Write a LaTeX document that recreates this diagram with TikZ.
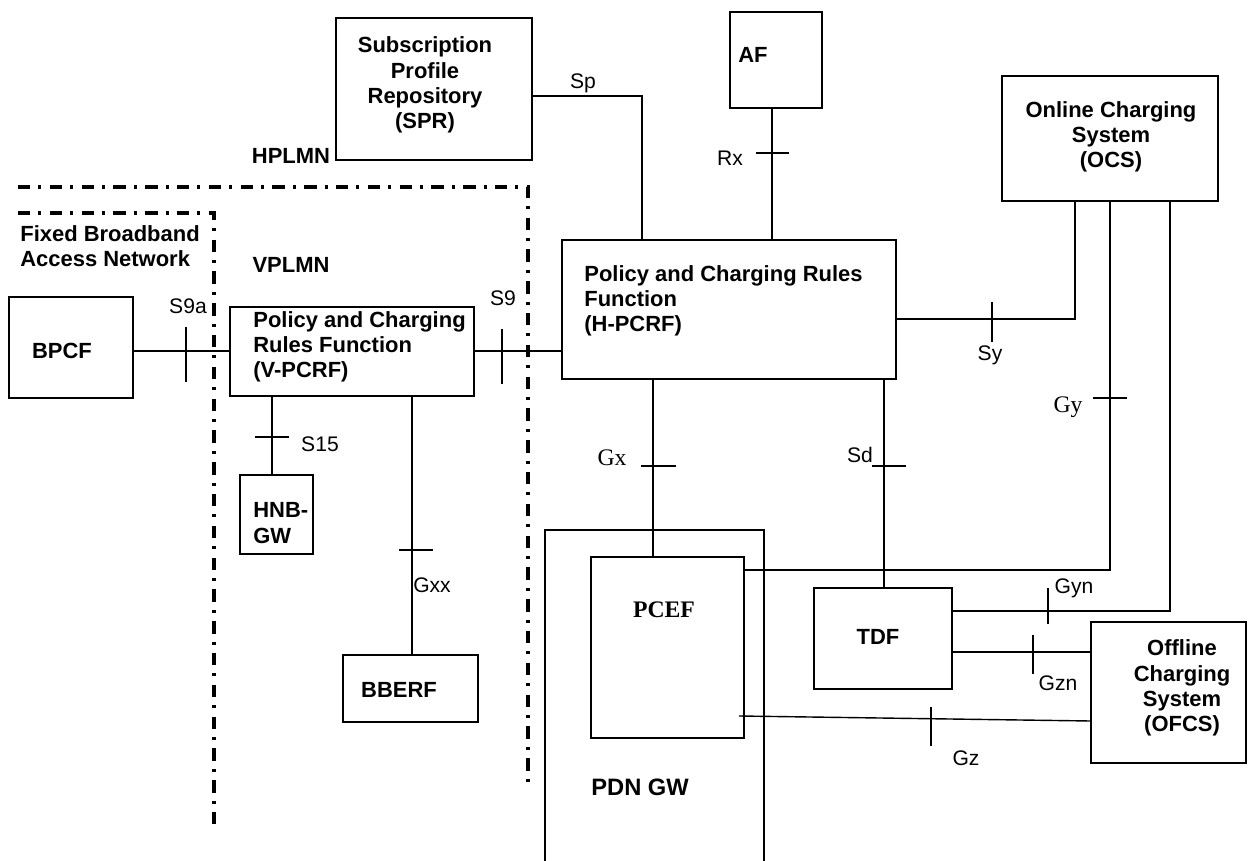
\documentclass[tikz,border=0pt]{standalone}
\usepackage{fontspec}
\setmainfont{Liberation Sans}
\newfontfamily\timesface{Liberation Serif}
\usetikzlibrary{fit}

\begin{document}
\begin{tikzpicture}[x=0.02cm, y=-0.02cm,
  box/.style={draw, line width=0.9pt, inner sep=0pt},
  boxtext/.style={font=\fontsize{12.5}{14.3}\selectfont\bfseries, inner sep=0pt},
  iface/.style={font=\fontsize{12}{14}\selectfont, inner sep=0pt},
  conn/.style={line width=0.8pt},
  tickline/.style={line width=0.6pt},
  plmnline/.style={line width=1.8pt, dash pattern=on 7pt off 4.6pt on 1.7pt off 4.8pt}]

\clip (0,0) rectangle (1249,861);

% Network borders
\draw[plmnline] (18,187) -- (528,187) -- (528,783);
\draw[plmnline] (18,213) -- (214,213) -- (214,828);
\node[boxtext] at (291,156) {HPLMN};
\node[boxtext] at (291,265) {VPLMN};
\node[boxtext, anchor=west, align=left] at (20,246) {Fixed Broadband\\Access Network};

% Boxes
\node[box, fit={(336,18) (532,160)}] (spr) {};
\node[box, fit={(730,12) (822,108)}] (af) {};
\node[box, fit={(1002,76) (1218,201)}] (ocs) {};
\node[box, fit={(9,297) (133,398)}] (bpcf) {};
\node[box, fit={(230,307) (474,396)}] (vpcrf) {};
\node[box, fit={(562,240) (896,379)}] (hpcrf) {};
\node[box, fit={(240,475) (313,554)}] (hnbgw) {};
\node[box, fit={(343,655) (478,722)}] (bberf) {};
\node[box, fit={(545,530) (764,900)}] (pdngw) {};
\node[box, fit={(591,557) (744,738)}] (pcef) {};
\node[box, fit={(814,588) (952,689)}] (tdf) {};
\node[box, fit={(1091,622) (1246,763)}] (ofcs) {};

% Box texts
\node[boxtext, align=center] at (425,85) {Subscription\\Profile\\Repository\\(SPR)};
\node[boxtext] at (753,55) {AF};
\node[boxtext, align=center] at (1111,137) {Online Charging\\System\\(OCS)};
\node[boxtext] at (62,351) {BPCF};
\node[boxtext, anchor=west, align=left] at (253,347) {Policy and Charging\\Rules Function\\(V-PCRF)};
\node[boxtext, anchor=west, align=left] at (584,301) {Policy and Charging Rules\\Function\\(H-PCRF)};
\node[boxtext, anchor=west, align=left] at (253,523) {HNB-\\GW};
\node[boxtext] at (399,690) {BBERF};
\node[boxtext, font=\fontsize{13.5}{15}\selectfont\timesface\bfseries] at (664,610) {PCEF};
\node[boxtext] at (878,637) {TDF};
\node[boxtext, align=center] at (1182,688) {Offline\\Charging\\System\\(OFCS)};
\node[boxtext, anchor=west, font=\fontsize{13.5}{15}\selectfont\bfseries] at (591,787) {PDN GW};

% Bend points and crossing points
\coordinate (spbend) at (642,96);
\coordinate (rx) at (772,153);
\coordinate (s9a) at (186,351);
\coordinate (s9) at (502,351);
\coordinate (s15) at (272,437);
\coordinate (gxx) at (412,550);
\coordinate (gx) at (653,466);
\coordinate (sd) at (884,466);
\coordinate (sybend) at (1075,319);
\coordinate (gybend) at (1110,570);
\coordinate (gynbend) at (1170,611);
\coordinate (gzn) at (1033,652);
\coordinate (gzstart) at (739,716);
\coordinate (gzend) at (1091,721);

% Interfaces
\draw[conn] (spr.east |- spbend) -- (spbend) -- (spbend |- hpcrf.north);
\draw[conn] (rx |- af.south) -- (rx |- hpcrf.north);
\draw[conn] (bpcf.east |- s9a) -- (vpcrf.west |- s9a);
\draw[conn] (vpcrf.east |- s9) -- (hpcrf.west |- s9);
\draw[conn] (s15 |- vpcrf.south) -- (s15 |- hnbgw.north);
\draw[conn] (gxx |- vpcrf.south) -- (gxx |- bberf.north);
\draw[conn] (gx |- hpcrf.south) -- (gx |- pcef.north);
\draw[conn] (sd |- hpcrf.south) -- (sd |- tdf.north);
\draw[conn] (hpcrf.east |- sybend) -- (sybend) -- (sybend |- ocs.south);
\draw[conn] (pcef.east |- gybend) -- (gybend) -- (gybend |- ocs.south);
\draw[conn] (tdf.east |- gynbend) -- (gynbend) -- (gynbend |- ocs.south);
\draw[conn] (tdf.east |- gzn) -- (ofcs.west |- gzn);
\draw[conn] (gzstart) -- (ofcs.west |- gzend);

% Ticks
\draw[tickline] (756,153) -- (789,153);
\draw[tickline] (186,327) -- (186,382);
\draw[tickline] (502,329) -- (502,384);
\draw[tickline] (255,437) -- (289,437);
\draw[tickline] (399,550) -- (433,550);
\draw[tickline] (641,466) -- (676,466);
\draw[tickline] (872,466) -- (906,466);
\draw[tickline] (992,302) -- (992,342);
\draw[tickline] (1093,398) -- (1127,398);
\draw[tickline] (1048,588) -- (1048,624);
\draw[tickline] (1033,635) -- (1033,674);
\draw[tickline] (931,707) -- (931,746);

% Interface labels
\node[iface] at (583,83) {Sp};
\node[iface] at (730,158) {Rx};
\node[iface] at (188,306) {S9a};
\node[iface] at (503,298) {S9};
\node[iface] at (320,444) {S15};
\node[iface] at (432,585) {Gxx};
\node[iface, font=\fontsize{13.5}{15}\selectfont\timesface] at (612,458) {Gx};
\node[iface] at (860,455) {Sd};
\node[iface] at (990,355) {Sy};
\node[iface, font=\fontsize{13.5}{15}\selectfont\timesface] at (1068,407) {Gy};
\node[iface] at (1074,588) {Gyn};
\node[iface] at (1058,683) {Gzn};
\node[iface] at (966,758) {Gz};

\end{tikzpicture}
\end{document}
